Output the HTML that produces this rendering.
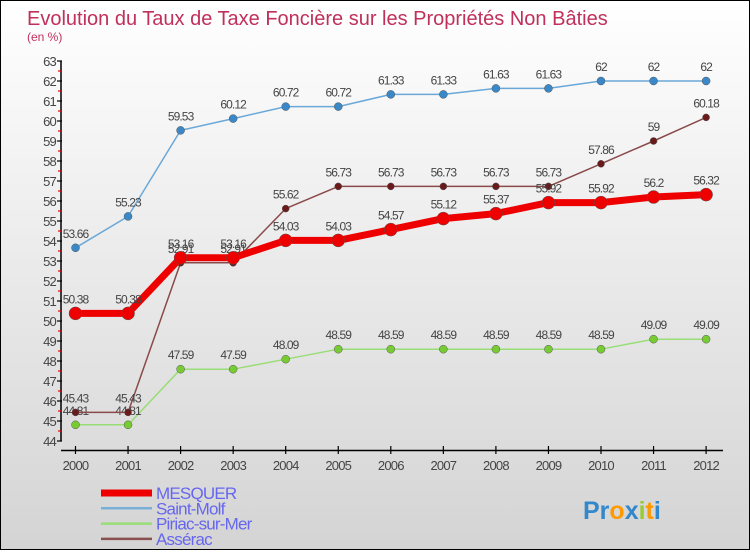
<!DOCTYPE html>
<html><head><meta charset="utf-8"><style>
html,body{margin:0;padding:0}
body{width:750px;height:550px;overflow:hidden;font-family:"Liberation Sans",sans-serif}
#wrap{position:relative;width:748px;height:548px;border:1px solid #000;background:linear-gradient(#ffffff,#d4d4d4)}
svg text{font-family:"Liberation Sans",sans-serif}
</style></head><body>
<div id="wrap">
<svg id="chart" width="748" height="548"></svg>
</div>
<script>
const years = [2000,2001,2002,2003,2004,2005,2006,2007,2008,2009,2010,2011,2012];
const mesquer = [50.38,50.38,53.16,53.16,54.03,54.03,54.57,55.12,55.37,55.92,55.92,56.2,56.32];
const saintMolf = [53.66,55.23,59.53,60.12,60.72,60.72,61.33,61.33,61.63,61.63,62,62,62];
const piriac = [44.81,44.81,47.59,47.59,48.09,48.59,48.59,48.59,48.59,48.59,48.59,49.09,49.09];
const asserac = [45.43,45.43,52.91,52.91,55.62,56.73,56.73,56.73,56.73,56.73,57.86,59,60.18];
const yTicks = [44,45,46,47,48,49,50,51,52,53,54,55,56,57,58,59,60,61,62,63];

const NS="http://www.w3.org/2000/svg";
const svg=document.getElementById('chart');
function xS(i){return 74.5+i*52.55;}
function yS(v){return 440-(v-44)*20;}
function mk(t,a,p){const e=document.createElementNS(NS,t);for(const k in a)e.setAttribute(k,a[k]);(p||svg).appendChild(e);return e;}

let t=mk('text',{x:26,y:24,'font-size':20,fill:'#c0305a'});t.textContent='Evolution du Taux de Taxe Foncière sur les Propriétés Non Bâties';


t=mk('text',{x:26,y:40,'font-size':12,fill:'#c0305a'});t.textContent='(en %)';



let ax=mk('line',{x1:60,y1:yS(63),x2:60,y2:yS(44),stroke:'#000','stroke-width':1.5});


yTicks.forEach(v=>{
  mk('line',{x1:56,y1:yS(v),x2:61,y2:yS(v),stroke:'#000','stroke-width':1.2});
  if(v<63) mk('line',{x1:57,y1:yS(v+0.5),x2:60,y2:yS(v+0.5),stroke:'#e00','stroke-width':1.2});
  const l=mk('text',{x:55,y:yS(v)+5,'font-size':13,fill:'#444','text-anchor':'end','letter-spacing':'-0.8'});l.textContent=v;
  
  
});
ax=mk('line',{x1:60,y1:449.5,x2:722,y2:449.5,stroke:'#000','stroke-width':1.5});


years.forEach((y,i)=>{
  mk('line',{x1:xS(i),y1:445,x2:xS(i),y2:453,stroke:'#000','stroke-width':1.2});
  const l=mk('text',{x:xS(i),y:469,'font-size':13,fill:'#444','text-anchor':'middle','letter-spacing':'-0.8'});l.textContent=y;
  
  
});

function series(data,color,w,r,dot,name){
  const g=mk('g',{});
  
  
  mk('polyline',{points:data.map((v,i)=>xS(i)+','+yS(v)).join(' '),fill:'none',stroke:color,'stroke-width':w,'stroke-linejoin':'round'},g);
  data.forEach((v,i)=>{
    const c=mk('circle',{cx:xS(i),cy:yS(v),r:r,fill:dot,stroke:'#555','stroke-width':0.5},g);
    
    
    const l=mk('text',{x:xS(i),y:yS(v)-10,'font-size':12,fill:'#444','text-anchor':'middle','letter-spacing':'-0.9'},g);l.textContent=v;
    
    
  });
}
series(piriac,'#99dd77',1.5,4,'#77cc33','series-piriac');
series(asserac,'#8a4a4a',1.5,3.5,'#6a1a1a','series-asserac');
series(saintMolf,'#6aa8d8',1.5,4,'#3a88c8','series-saint-molf');
series(mesquer,'#ee0000',7,6.5,'#ee0000','series-mesquer');

const leg=[['MESQUER','#ee0000',7],['Saint-Molf','#7ab0d8',2.5],['Piriac-sur-Mer','#99dd77',2.5],['Assérac','#8a5050',2.5]];
leg.forEach((e,i)=>{
  const y=492+i*15.3;
  const g=mk('g',{});
  
  
  mk('line',{x1:100,y1:y,x2:151,y2:y,stroke:e[1],'stroke-width':e[2]},g);
  const l=mk('text',{x:155,y:y+6,'font-size':17,fill:'#6666ee','letter-spacing':'-0.8'},g);l.textContent=e[0];
});
const p=mk('text',{x:582,y:518,'font-size':25,'font-weight':'bold',fill:'#3399cc'});
p.innerHTML='<tspan fill="#3388cc">Pr</tspan><tspan fill="#ff9900">o</tspan><tspan fill="#3388cc">x</tspan><tspan fill="#99cc33">i</tspan><tspan fill="#ff9900">t</tspan><tspan fill="#3388cc">i</tspan>';


</script>
</body></html>
